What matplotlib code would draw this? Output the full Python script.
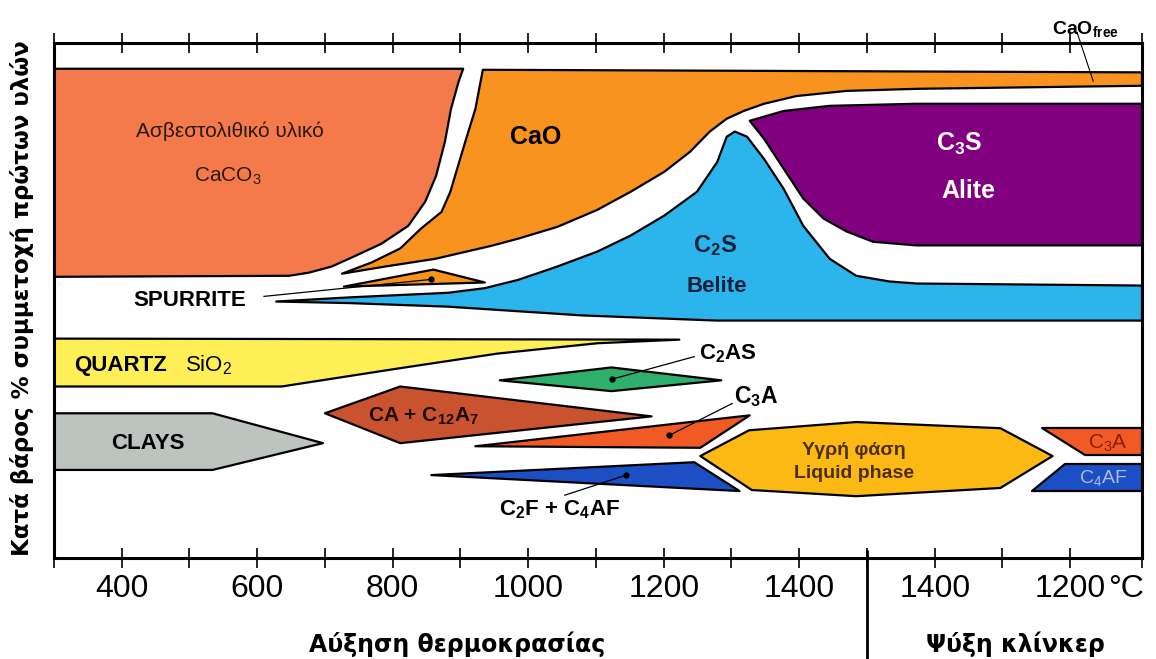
import matplotlib.pyplot as plt

plt.rcParams['font.family'] = ['Liberation Sans', 'DejaVu Sans']
plt.rcParams['mathtext.default'] = 'regular'

# x is a running temperature position: 300..1500 heating, then 1500..1906 = cooling 1500 -> ~1100 C
X_MIN, X_MAX = 300, 1906
HEAT_END = 1500

TICK_POS = [400, 600, 800, 1000, 1200, 1400, 1600, 1800]
TICK_LABELS = ['400', '600', '800', '1000', '1200', '1400', '1400', '1200']
MINOR_POS = [300, 500, 700, 900, 1100, 1300, 1500, 1700, 1906]

# phase regions, y = weight % (0..100 of the frame height)
CACO3_X = [300, 904, 897, 886, 877, 864, 848, 823, 783, 742, 710, 676, 647, 300]
CACO3_Y = [95.0, 95.0, 92.4, 87.2, 80.8, 74.2, 69.2, 64.5, 61.0, 58.5, 56.6, 55.4, 54.8, 54.6]

CAO_X = [933, 1906, 1906, 1573, 1470, 1396, 1348, 1318, 1293, 1268, 1239, 1201, 1151, 1102,
         1043, 985, 945, 863, 789, 725, 769, 811, 842, 872, 885, 892, 907, 922]
CAO_Y = [94.8, 94.3, 91.7, 91.1, 90.7, 89.7, 88.2, 86.8, 85.3, 82.8, 78.9, 75.0, 71.1, 67.6,
         64.3, 62.0, 60.6, 58.1, 56.6, 55.2, 57.4, 60.1, 64.0, 67.2, 71.1, 74.2, 80.8, 87.2]

SPUR_X = [728, 860, 936]
SPUR_Y = [52.7, 56.0, 53.5]

BELITE_X = [628, 735, 882, 936, 985, 1043, 1102, 1151, 1201, 1249, 1279, 1293, 1305, 1323,
            1348, 1377, 1406, 1445, 1484, 1533, 1573, 1906, 1906, 1279, 1080, 882, 735]
BELITE_Y = [49.8, 50.6, 51.5, 52.4, 54.0, 56.6, 59.5, 62.6, 66.5, 71.1, 76.9, 81.8, 82.8, 81.8,
            77.5, 71.7, 64.5, 58.1, 54.8, 53.7, 53.3, 52.9, 46.1, 46.1, 47.1, 48.8, 49.5]

ALITE_X = [1327, 1377, 1445, 1573, 1906, 1906, 1573, 1509, 1470, 1436, 1406, 1377, 1348]
ALITE_Y = [84.9, 86.8, 87.8, 88.2, 88.2, 60.7, 60.7, 61.4, 63.4, 65.9, 69.8, 75.6, 81.4]

QUARTZ_X = [300, 1223, 1102, 955, 808, 636, 300]
QUARTZ_Y = [42.6, 42.4, 41.7, 39.7, 36.8, 33.3, 33.3]

C2AS_X = [958, 1123, 1285, 1123]
C2AS_Y = [34.5, 37.0, 34.5, 32.4]

CA_X = [700, 811, 1182, 811]
CA_Y = [28.1, 33.3, 27.5, 22.3]

C3A_X = [922, 1327, 1254]
C3A_Y = [21.7, 27.7, 21.4]

C2F_X = [857, 1245, 1312]
C2F_Y = [16.1, 18.6, 13.0]

CLAYS_X = [300, 534, 697, 534, 300]
CLAYS_Y = [28.1, 28.1, 22.3, 17.1, 17.1]

LIQ_X = [1254, 1326, 1484, 1697, 1774, 1697, 1484, 1330]
LIQ_Y = [19.8, 24.8, 26.4, 25.2, 19.8, 13.6, 12.0, 13.2]

C3A_COOL_X = [1758, 1906, 1906, 1822]
C3A_COOL_Y = [25.2, 25.2, 20.0, 20.0]

C4AF_COOL_X = [1793, 1906, 1906, 1743]
C4AF_COOL_Y = [18.2, 18.2, 13.0, 13.0]

# leader lines: (label end, dot end)
LEADERS = [((610, 50.8), (857, 54.1)),
           ((1245, 39.1), (1123, 34.7)),
           ((1301, 30.0), (1208, 23.8)),
           ((1054, 12.2), (1145, 16.1))]

fig = plt.figure(figsize=(11.56, 6.59), dpi=100)
ax = fig.add_axes([54 / 1156, 101 / 659, 1088 / 1156, 515 / 659])
ax.set_xlim(X_MIN, X_MAX)
ax.set_ylim(0, 100)


def phase(xs, ys, color):
    ax.fill(xs, ys, facecolor=color, edgecolor='black', linewidth=1.6,
            joinstyle='round', zorder=2)


phase(CACO3_X, CACO3_Y, '#F57A4B')
phase(CAO_X, CAO_Y, '#F7931E')
phase(SPUR_X, SPUR_Y, '#F7931E')
phase(BELITE_X, BELITE_Y, '#2CB5EC')
phase(ALITE_X, ALITE_Y, '#800080')
phase(QUARTZ_X, QUARTZ_Y, '#FDEF55')
phase(C2AS_X, C2AS_Y, '#2EB06C')
phase(CA_X, CA_Y, '#C9532F')
phase(C3A_X, C3A_Y, '#F15A24')
phase(C2F_X, C2F_Y, '#1D4FC4')
phase(CLAYS_X, CLAYS_Y, '#BDC3BF')
phase(LIQ_X, LIQ_Y, '#FDB913')
phase(C3A_COOL_X, C3A_COOL_Y, '#F15A24')
phase(C4AF_COOL_X, C4AF_COOL_Y, '#1D4FC4')

for (x0, y0), (x1, y1) in LEADERS:
    ax.plot([x0, x1], [y0, y1], color='black', lw=0.9, zorder=3)
    ax.plot(x1, y1, 'o', ms=3.5, color='black', zorder=3)
ax.plot([1810, 1834], [102.1, 92.6], color='black', lw=0.8, zorder=3, clip_on=False)

# labels inside the regions
ax.text(559, 82.8, 'Ασβεστολιθικό υλικό', ha='center', va='center', fontsize=15, color='#2b1a10')
ax.text(556, 74.2, 'CaCO$_3$', ha='center', va='center', fontsize=15, color='#2b1a10')
ax.text(1011, 81.8, 'CaO', ha='center', va='center', fontsize=18, weight='bold')
ax.text(1636, 80.4, 'C$_3$S', ha='center', va='center', fontsize=18, weight='bold', color='white')
ax.text(1649, 71.3, 'Alite', ha='center', va='center', fontsize=18, weight='bold', color='white')
ax.text(1276, 60.7, 'C$_2$S', ha='center', va='center', fontsize=17, weight='bold', color='#10203a')
ax.text(1279, 52.7, 'Belite', ha='center', va='center', fontsize=16, weight='bold', color='#10203a')
ax.text(500, 50.0, 'SPURRITE', ha='center', va='center', fontsize=16, weight='bold')
ax.text(398, 37.4, 'QUARTZ', ha='center', va='center', fontsize=16, weight='bold')
ax.text(528, 37.4, 'SiO$_2$', ha='center', va='center', fontsize=16)
ax.text(1252, 39.7, 'C$_2$AS', ha='left', va='center', fontsize=16, weight='bold')
ax.text(845, 27.5, 'CA + C$_{12}$A$_7$', ha='center', va='center', fontsize=15, weight='bold', color='#1a0a05')
ax.text(1304, 31.4, 'C$_3$A', ha='left', va='center', fontsize=16.5, weight='bold')
ax.text(1046, 9.3, 'C$_2$F + C$_4$AF', ha='center', va='center', fontsize=16, weight='bold')
ax.text(438, 22.3, 'CLAYS', ha='center', va='center', fontsize=16, weight='bold')
ax.text(1481, 20.9, 'Υγρή φάση', ha='center', va='center', fontsize=14, weight='bold', color='#4B2E05')
ax.text(1481, 16.5, 'Liquid phase', ha='center', va='center', fontsize=14, weight='bold', color='#4B2E05')
ax.text(1855, 22.3, 'C$_3$A', ha='center', va='center', fontsize=15, color='#8C1F0A')
ax.text(1849, 15.5, 'C$_4$AF', ha='center', va='center', fontsize=14, color='#AEBBE0')
ax.text(1822, 102.7, 'CaO$_{free}$', ha='center', va='center', fontsize=14, weight='bold', clip_on=False)

# frame and ticks
for s in ax.spines.values():
    s.set_linewidth(2.2)
ax.set_yticks([])
ax.set_xticks(TICK_POS)
ax.set_xticklabels(TICK_LABELS)
ax.set_xticks(MINOR_POS, minor=True)
ax.tick_params(axis='x', which='both', direction='inout', length=15, width=1.2,
               top=True, bottom=True, labelsize=23, pad=4)
ax.annotate('°C', xy=(1856, 0), xycoords=('data', 'axes fraction'), xytext=(0, -11.5),
            textcoords='offset points', ha='left', va='top', fontsize=23)

# heating / cooling divider below the axis
ax.plot([HEAT_END, HEAT_END], [1.6, -20], color='black', lw=2, clip_on=False,
        solid_capstyle='butt')

fig.text(457 / 1156, 1 - 644 / 659, 'Αύξηση θερμοκρασίας', ha='center', va='center',
         fontsize=17, weight='bold', family='DejaVu Sans')
fig.text(1015 / 1156, 1 - 644 / 659, 'Ψύξη κλίνκερ', ha='center', va='center',
         fontsize=17, weight='bold', family='DejaVu Sans')
fig.text(22 / 1156, 1 - 298 / 659, 'Κατά βάρος % συμμετοχή πρώτων υλών', rotation=90,
         ha='center', va='center', fontsize=16.5, weight='bold', family='DejaVu Sans')

fig.savefig('out.png', dpi=100)
